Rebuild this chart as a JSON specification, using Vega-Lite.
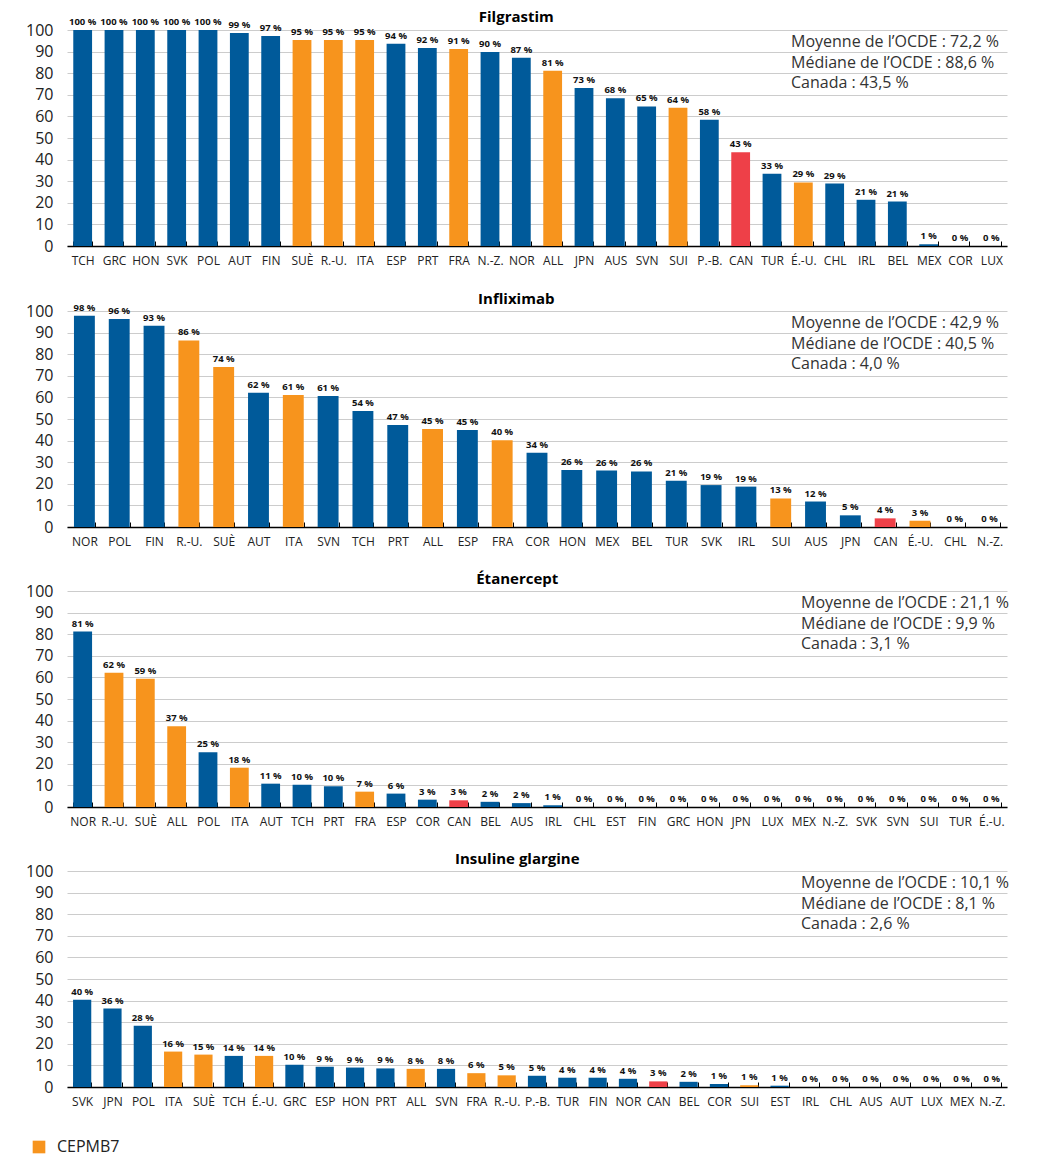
{
  "$schema": "https://vega.github.io/schema/vega-lite/v6.json",
  "padding": {"left": 25, "top": 10, "right": 10, "bottom": 5},
  "datasets": {
    "bars": [
      {"drug": "Filgrastim", "pays": "TCH", "v": 100, "g": "Autre"},
      {"drug": "Filgrastim", "pays": "GRC", "v": 100, "g": "Autre"},
      {"drug": "Filgrastim", "pays": "HON", "v": 100, "g": "Autre"},
      {"drug": "Filgrastim", "pays": "SVK", "v": 100, "g": "Autre"},
      {"drug": "Filgrastim", "pays": "POL", "v": 100, "g": "Autre"},
      {"drug": "Filgrastim", "pays": "AUT", "v": 98.6, "g": "Autre"},
      {"drug": "Filgrastim", "pays": "FIN", "v": 97.2, "g": "Autre"},
      {"drug": "Filgrastim", "pays": "SUÈ", "v": 95.4, "g": "CEPMB7"},
      {"drug": "Filgrastim", "pays": "R.-U.", "v": 95.4, "g": "CEPMB7"},
      {"drug": "Filgrastim", "pays": "ITA", "v": 95.4, "g": "CEPMB7"},
      {"drug": "Filgrastim", "pays": "ESP", "v": 93.6, "g": "Autre"},
      {"drug": "Filgrastim", "pays": "PRT", "v": 91.7, "g": "Autre"},
      {"drug": "Filgrastim", "pays": "FRA", "v": 91.2, "g": "CEPMB7"},
      {"drug": "Filgrastim", "pays": "N.-Z.", "v": 89.8, "g": "Autre"},
      {"drug": "Filgrastim", "pays": "NOR", "v": 87.1, "g": "Autre"},
      {"drug": "Filgrastim", "pays": "ALL", "v": 81.1, "g": "CEPMB7"},
      {"drug": "Filgrastim", "pays": "JPN", "v": 73.2, "g": "Autre"},
      {"drug": "Filgrastim", "pays": "AUS", "v": 68.4, "g": "Autre"},
      {"drug": "Filgrastim", "pays": "SVN", "v": 64.6, "g": "Autre"},
      {"drug": "Filgrastim", "pays": "SUI", "v": 64.0, "g": "CEPMB7"},
      {"drug": "Filgrastim", "pays": "P.-B.", "v": 58.4, "g": "Autre"},
      {"drug": "Filgrastim", "pays": "CAN", "v": 43.45, "g": "Canada"},
      {"drug": "Filgrastim", "pays": "TUR", "v": 33.4, "g": "Autre"},
      {"drug": "Filgrastim", "pays": "É.-U.", "v": 29.4, "g": "CEPMB7"},
      {"drug": "Filgrastim", "pays": "CHL", "v": 28.9, "g": "Autre"},
      {"drug": "Filgrastim", "pays": "IRL", "v": 21.4, "g": "Autre"},
      {"drug": "Filgrastim", "pays": "BEL", "v": 20.6, "g": "Autre"},
      {"drug": "Filgrastim", "pays": "MEX", "v": 0.8, "g": "Autre"},
      {"drug": "Filgrastim", "pays": "COR", "v": 0, "g": "Autre"},
      {"drug": "Filgrastim", "pays": "LUX", "v": 0, "g": "Autre"},

      {"drug": "Infliximab", "pays": "NOR", "v": 97.8, "g": "Autre"},
      {"drug": "Infliximab", "pays": "POL", "v": 96.3, "g": "Autre"},
      {"drug": "Infliximab", "pays": "FIN", "v": 93.2, "g": "Autre"},
      {"drug": "Infliximab", "pays": "R.-U.", "v": 86.4, "g": "CEPMB7"},
      {"drug": "Infliximab", "pays": "SUÈ", "v": 74.1, "g": "CEPMB7"},
      {"drug": "Infliximab", "pays": "AUT", "v": 62.1, "g": "Autre"},
      {"drug": "Infliximab", "pays": "ITA", "v": 61.1, "g": "CEPMB7"},
      {"drug": "Infliximab", "pays": "SVN", "v": 60.7, "g": "Autre"},
      {"drug": "Infliximab", "pays": "TCH", "v": 53.7, "g": "Autre"},
      {"drug": "Infliximab", "pays": "PRT", "v": 47.2, "g": "Autre"},
      {"drug": "Infliximab", "pays": "ALL", "v": 45.4, "g": "CEPMB7"},
      {"drug": "Infliximab", "pays": "ESP", "v": 44.9, "g": "Autre"},
      {"drug": "Infliximab", "pays": "FRA", "v": 40.2, "g": "CEPMB7"},
      {"drug": "Infliximab", "pays": "COR", "v": 34.4, "g": "Autre"},
      {"drug": "Infliximab", "pays": "HON", "v": 26.4, "g": "Autre"},
      {"drug": "Infliximab", "pays": "MEX", "v": 26.1, "g": "Autre"},
      {"drug": "Infliximab", "pays": "BEL", "v": 25.7, "g": "Autre"},
      {"drug": "Infliximab", "pays": "TUR", "v": 21.4, "g": "Autre"},
      {"drug": "Infliximab", "pays": "SVK", "v": 19.4, "g": "Autre"},
      {"drug": "Infliximab", "pays": "IRL", "v": 18.7, "g": "Autre"},
      {"drug": "Infliximab", "pays": "SUI", "v": 13.2, "g": "CEPMB7"},
      {"drug": "Infliximab", "pays": "AUS", "v": 11.8, "g": "Autre"},
      {"drug": "Infliximab", "pays": "JPN", "v": 5.4, "g": "Autre"},
      {"drug": "Infliximab", "pays": "CAN", "v": 4.0, "g": "Canada"},
      {"drug": "Infliximab", "pays": "É.-U.", "v": 2.9, "g": "CEPMB7"},
      {"drug": "Infliximab", "pays": "CHL", "v": 0, "g": "Autre"},
      {"drug": "Infliximab", "pays": "N.-Z.", "v": 0, "g": "Autre"},

      {"drug": "Étanercept", "pays": "NOR", "v": 81.2, "g": "Autre"},
      {"drug": "Étanercept", "pays": "R.-U.", "v": 62.2, "g": "CEPMB7"},
      {"drug": "Étanercept", "pays": "SUÈ", "v": 59.4, "g": "CEPMB7"},
      {"drug": "Étanercept", "pays": "ALL", "v": 37.4, "g": "CEPMB7"},
      {"drug": "Étanercept", "pays": "POL", "v": 25.4, "g": "Autre"},
      {"drug": "Étanercept", "pays": "ITA", "v": 18.2, "g": "CEPMB7"},
      {"drug": "Étanercept", "pays": "AUT", "v": 10.8, "g": "Autre"},
      {"drug": "Étanercept", "pays": "TCH", "v": 10.3, "g": "Autre"},
      {"drug": "Étanercept", "pays": "PRT", "v": 9.6, "g": "Autre"},
      {"drug": "Étanercept", "pays": "FRA", "v": 7.1, "g": "CEPMB7"},
      {"drug": "Étanercept", "pays": "ESP", "v": 6.2, "g": "Autre"},
      {"drug": "Étanercept", "pays": "COR", "v": 3.4, "g": "Autre"},
      {"drug": "Étanercept", "pays": "CAN", "v": 3.1, "g": "Canada"},
      {"drug": "Étanercept", "pays": "BEL", "v": 2.4, "g": "Autre"},
      {"drug": "Étanercept", "pays": "AUS", "v": 1.8, "g": "Autre"},
      {"drug": "Étanercept", "pays": "IRL", "v": 0.8, "g": "Autre"},
      {"drug": "Étanercept", "pays": "CHL", "v": 0, "g": "Autre"},
      {"drug": "Étanercept", "pays": "EST", "v": 0, "g": "Autre"},
      {"drug": "Étanercept", "pays": "FIN", "v": 0, "g": "Autre"},
      {"drug": "Étanercept", "pays": "GRC", "v": 0, "g": "Autre"},
      {"drug": "Étanercept", "pays": "HON", "v": 0, "g": "Autre"},
      {"drug": "Étanercept", "pays": "JPN", "v": 0, "g": "Autre"},
      {"drug": "Étanercept", "pays": "LUX", "v": 0, "g": "Autre"},
      {"drug": "Étanercept", "pays": "MEX", "v": 0, "g": "Autre"},
      {"drug": "Étanercept", "pays": "N.-Z.", "v": 0, "g": "Autre"},
      {"drug": "Étanercept", "pays": "SVK", "v": 0, "g": "Autre"},
      {"drug": "Étanercept", "pays": "SVN", "v": 0, "g": "Autre"},
      {"drug": "Étanercept", "pays": "SUI", "v": 0, "g": "CEPMB7"},
      {"drug": "Étanercept", "pays": "TUR", "v": 0, "g": "Autre"},
      {"drug": "Étanercept", "pays": "É.-U.", "v": 0, "g": "CEPMB7"},

      {"drug": "Insuline glargine", "pays": "SVK", "v": 40.4, "g": "Autre"},
      {"drug": "Insuline glargine", "pays": "JPN", "v": 36.3, "g": "Autre"},
      {"drug": "Insuline glargine", "pays": "POL", "v": 28.4, "g": "Autre"},
      {"drug": "Insuline glargine", "pays": "ITA", "v": 16.4, "g": "CEPMB7"},
      {"drug": "Insuline glargine", "pays": "SUÈ", "v": 15.0, "g": "CEPMB7"},
      {"drug": "Insuline glargine", "pays": "TCH", "v": 14.4, "g": "Autre"},
      {"drug": "Insuline glargine", "pays": "É.-U.", "v": 14.4, "g": "CEPMB7"},
      {"drug": "Insuline glargine", "pays": "GRC", "v": 10.3, "g": "Autre"},
      {"drug": "Insuline glargine", "pays": "ESP", "v": 9.4, "g": "Autre"},
      {"drug": "Insuline glargine", "pays": "HON", "v": 9.0, "g": "Autre"},
      {"drug": "Insuline glargine", "pays": "PRT", "v": 8.6, "g": "Autre"},
      {"drug": "Insuline glargine", "pays": "ALL", "v": 8.4, "g": "CEPMB7"},
      {"drug": "Insuline glargine", "pays": "SVN", "v": 8.4, "g": "Autre"},
      {"drug": "Insuline glargine", "pays": "FRA", "v": 6.4, "g": "CEPMB7"},
      {"drug": "Insuline glargine", "pays": "R.-U.", "v": 5.4, "g": "CEPMB7"},
      {"drug": "Insuline glargine", "pays": "P.-B.", "v": 5.2, "g": "Autre"},
      {"drug": "Insuline glargine", "pays": "TUR", "v": 4.3, "g": "Autre"},
      {"drug": "Insuline glargine", "pays": "FIN", "v": 4.3, "g": "Autre"},
      {"drug": "Insuline glargine", "pays": "NOR", "v": 3.8, "g": "Autre"},
      {"drug": "Insuline glargine", "pays": "CAN", "v": 2.6, "g": "Canada"},
      {"drug": "Insuline glargine", "pays": "BEL", "v": 2.4, "g": "Autre"},
      {"drug": "Insuline glargine", "pays": "COR", "v": 1.4, "g": "Autre"},
      {"drug": "Insuline glargine", "pays": "SUI", "v": 0.8, "g": "CEPMB7"},
      {"drug": "Insuline glargine", "pays": "EST", "v": 0.6, "g": "Autre"},
      {"drug": "Insuline glargine", "pays": "IRL", "v": 0, "g": "Autre"},
      {"drug": "Insuline glargine", "pays": "CHL", "v": 0, "g": "Autre"},
      {"drug": "Insuline glargine", "pays": "AUS", "v": 0, "g": "Autre"},
      {"drug": "Insuline glargine", "pays": "AUT", "v": 0, "g": "Autre"},
      {"drug": "Insuline glargine", "pays": "LUX", "v": 0, "g": "Autre"},
      {"drug": "Insuline glargine", "pays": "MEX", "v": 0, "g": "Autre"},
      {"drug": "Insuline glargine", "pays": "N.-Z.", "v": 0, "g": "Autre"}
    ],
    "ann": [
      {"drug": "Filgrastim", "txt": "Moyenne de l’OCDE : 72,2 %\nMédiane de l’OCDE : 88,6 %\nCanada : 43,5 %"},
      {"drug": "Infliximab", "txt": "Moyenne de l’OCDE : 42,9 %\nMédiane de l’OCDE : 40,5 %\nCanada : 4,0 %"},
      {"drug": "Étanercept", "txt": "Moyenne de l’OCDE : 21,1 %\nMédiane de l’OCDE : 9,9 %\nCanada : 3,1 %"},
      {"drug": "Insuline glargine", "txt": "Moyenne de l’OCDE : 10,1 %\nMédiane de l’OCDE : 8,1 %\nCanada : 2,6 %"}
    ]
  },
  "vconcat": [
    {
      "title": {"text": "Filgrastim", "offset": -8},
      "width": 940, "height": 216,
      "layer": [
        {"data": {"name": "bars"}, "transform": [{"filter": "datum.drug === 'Filgrastim'"}],
         "mark": {"type": "bar"},
         "encoding": {
           "x": {"field": "pays", "type": "nominal", "sort": null, "scale": {"paddingInner": 0.4, "paddingOuter": 0.2}},
           "y": {"field": "v", "type": "quantitative", "scale": {"domain": [0, 100], "nice": false}},
           "color": {"field": "g", "type": "nominal", "scale": {"domain": ["CEPMB7", "Autre", "Canada"], "range": ["#F7941D", "#005A9A", "#EE4048"]}, "legend": {"values": ["CEPMB7"]}}}},
        {"data": {"name": "bars"}, "transform": [{"filter": "datum.drug === 'Filgrastim'"}],
         "mark": {"type": "text", "baseline": "bottom", "dy": -3, "fontSize": 9.5, "fontWeight": "bold", "color": "#111"},
         "encoding": {
           "x": {"field": "pays", "type": "nominal", "sort": null},
           "y": {"field": "v", "type": "quantitative"},
           "text": {"field": "v", "type": "quantitative", "format": "$.0f"}}},
        {"data": {"name": "ann"}, "transform": [{"filter": "datum.drug === 'Filgrastim'"}],
         "mark": {"type": "text", "align": "left", "baseline": "middle", "lineBreak": "\n", "lineHeight": 20.5, "fontSize": 16, "color": "#333", "dx": -216},
         "encoding": {"x": {"value": "width"}, "y": {"datum": 94.3}, "text": {"field": "txt"}}}
      ]
    },
    {
      "title": {"text": "Infliximab", "offset": -4},
      "width": 940, "height": 216,
      "layer": [
        {"data": {"name": "bars"}, "transform": [{"filter": "datum.drug === 'Infliximab'"}],
         "mark": {"type": "bar"},
         "encoding": {
           "x": {"field": "pays", "type": "nominal", "sort": null, "scale": {"paddingInner": 0.4, "paddingOuter": 0.2}},
           "y": {"field": "v", "type": "quantitative", "scale": {"domain": [0, 100], "nice": false}},
           "color": {"field": "g", "type": "nominal", "scale": {"domain": ["CEPMB7", "Autre", "Canada"], "range": ["#F7941D", "#005A9A", "#EE4048"]}, "legend": {"values": ["CEPMB7"]}}}},
        {"data": {"name": "bars"}, "transform": [{"filter": "datum.drug === 'Infliximab'"}],
         "mark": {"type": "text", "baseline": "bottom", "dy": -3, "fontSize": 9.5, "fontWeight": "bold", "color": "#111"},
         "encoding": {
           "x": {"field": "pays", "type": "nominal", "sort": null},
           "y": {"field": "v", "type": "quantitative"},
           "text": {"field": "v", "type": "quantitative", "format": "$.0f"}}},
        {"data": {"name": "ann"}, "transform": [{"filter": "datum.drug === 'Infliximab'"}],
         "mark": {"type": "text", "align": "left", "baseline": "middle", "lineBreak": "\n", "lineHeight": 20.5, "fontSize": 16, "color": "#333", "dx": -216},
         "encoding": {"x": {"value": "width"}, "y": {"datum": 94.3}, "text": {"field": "txt"}}}
      ]
    },
    {
      "title": {"text": "Étanercept", "offset": -4},
      "width": 940, "height": 216,
      "layer": [
        {"data": {"name": "bars"}, "transform": [{"filter": "datum.drug === 'Étanercept'"}],
         "mark": {"type": "bar"},
         "encoding": {
           "x": {"field": "pays", "type": "nominal", "sort": null, "scale": {"paddingInner": 0.4, "paddingOuter": 0.2}},
           "y": {"field": "v", "type": "quantitative", "scale": {"domain": [0, 100], "nice": false}},
           "color": {"field": "g", "type": "nominal", "scale": {"domain": ["CEPMB7", "Autre", "Canada"], "range": ["#F7941D", "#005A9A", "#EE4048"]}, "legend": {"values": ["CEPMB7"]}}}},
        {"data": {"name": "bars"}, "transform": [{"filter": "datum.drug === 'Étanercept'"}],
         "mark": {"type": "text", "baseline": "bottom", "dy": -3, "fontSize": 9.5, "fontWeight": "bold", "color": "#111"},
         "encoding": {
           "x": {"field": "pays", "type": "nominal", "sort": null},
           "y": {"field": "v", "type": "quantitative"},
           "text": {"field": "v", "type": "quantitative", "format": "$.0f"}}},
        {"data": {"name": "ann"}, "transform": [{"filter": "datum.drug === 'Étanercept'"}],
         "mark": {"type": "text", "align": "left", "baseline": "middle", "lineBreak": "\n", "lineHeight": 20.5, "fontSize": 16, "color": "#333", "dx": -206},
         "encoding": {"x": {"value": "width"}, "y": {"datum": 94.3}, "text": {"field": "txt"}}}
      ]
    },
    {
      "title": {"text": "Insuline glargine", "offset": -4},
      "width": 940, "height": 216,
      "layer": [
        {"data": {"name": "bars"}, "transform": [{"filter": "datum.drug === 'Insuline glargine'"}],
         "mark": {"type": "bar"},
         "encoding": {
           "x": {"field": "pays", "type": "nominal", "sort": null, "scale": {"paddingInner": 0.4, "paddingOuter": 0.2}},
           "y": {"field": "v", "type": "quantitative", "scale": {"domain": [0, 100], "nice": false}},
           "color": {"field": "g", "type": "nominal", "scale": {"domain": ["CEPMB7", "Autre", "Canada"], "range": ["#F7941D", "#005A9A", "#EE4048"]}, "legend": {"values": ["CEPMB7"]}}}},
        {"data": {"name": "bars"}, "transform": [{"filter": "datum.drug === 'Insuline glargine'"}],
         "mark": {"type": "text", "baseline": "bottom", "dy": -3, "fontSize": 9.5, "fontWeight": "bold", "color": "#111"},
         "encoding": {
           "x": {"field": "pays", "type": "nominal", "sort": null},
           "y": {"field": "v", "type": "quantitative"},
           "text": {"field": "v", "type": "quantitative", "format": "$.0f"}}},
        {"data": {"name": "ann"}, "transform": [{"filter": "datum.drug === 'Insuline glargine'"}],
         "mark": {"type": "text", "align": "left", "baseline": "middle", "lineBreak": "\n", "lineHeight": 20.5, "fontSize": 16, "color": "#333", "dx": -206},
         "encoding": {"x": {"value": "width"}, "y": {"datum": 94.3}, "text": {"field": "txt"}}}
      ]
    }
  ],
  "resolve": {"scale": {"color": "shared"}},
  "config": {
    "font": "Open Sans",
    "view": {"stroke": null},
    "locale": {"number": {"decimal": ",", "thousands": " ", "grouping": [3], "currency": ["", " %"]}},
    "concat": {"spacing": 25},
    "title": {"fontSize": 15, "fontWeight": "bold", "color": "#000", "anchor": "middle", "frame": "bounds"},
    "axisX": {"title": null, "labelAngle": 0, "labelFontSize": 12, "labelColor": "#222", "domainColor": "#000", "domainWidth": 1.5, "tickBand": "extent", "tickColor": "#000", "tickSize": -5, "tickWidth": 1, "labelPadding": 14, "grid": false},
    "axisY": {"title": null, "domain": false, "ticks": false, "grid": true, "gridColor": "#cccccc", "gridWidth": 1, "labelFontSize": 16, "labelColor": "#222", "labelPadding": 14, "tickCount": 10},
    "legend": {"orient": "none", "legendX": -36, "legendY": 1109, "title": null, "symbolType": "square", "symbolSize": 160, "symbolStrokeWidth": 0, "labelFontSize": 16, "labelColor": "#222", "labelOffset": 10}
  }
}
